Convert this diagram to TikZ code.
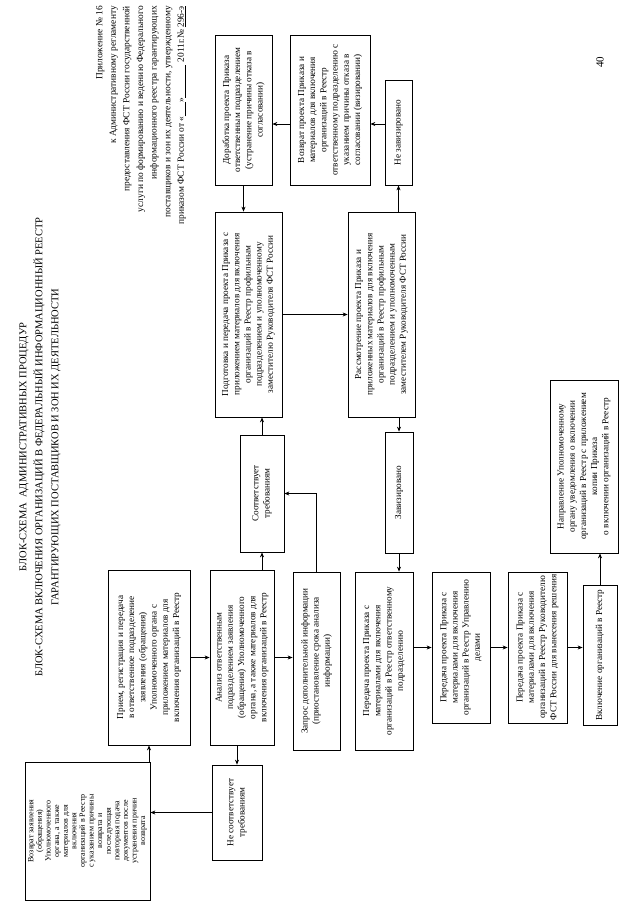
\documentclass[tikz,border=0pt]{standalone}
\usepackage{fontspec}
\setmainfont{Liberation Serif}
\usetikzlibrary{arrows.meta}
\newcommand\mybox[7][]{\node[bx,#1, minimum width={(#6-#5)*1pt}, minimum height={(#4-#3)*1pt}] (#2) at ({(#3+#4)/2},{(#5+#6)/2}) {#7};}
\begin{document}
\begin{tikzpicture}[x=1pt,y=-1pt,
  bx/.style={draw, line width=0.75pt, rotate=90, align=center, inner sep=1.5pt, font=\fontsize{9.2}{11.2}\selectfont},
  arr/.style={draw, line width=0.75pt, -{Stealth[length=5pt,width=4pt]}},
  txt/.style={rotate=90, inner sep=0pt}]
\fill[white] (0,0) rectangle (640,905);
\useasboundingbox (0,0) rectangle (640,905);

\node[txt, align=center, font=\fontsize{10.5}{16}\selectfont] (title) at (40,447) {БЛОК-СХЕМА\ \ АДМИНИСТРАТИВНЫХ ПРОЦЕДУР\\БЛОК-СХЕМА ВКЛЮЧЕНИЯ ОРГАНИЗАЦИЙ В ФЕДЕРАЛЬНЫЙ ИНФОРМАЦИОННЫЙ РЕЕСТР\\ГАРАНТИРУЮЩИХ ПОСТАВЩИКОВ И ЗОН ИХ ДЕЯТЕЛЬНОСТИ};
\node[txt, anchor=east, align=right, font=\fontsize{9.4}{13.6}\selectfont] (ann) at (141,6) {Приложение № 16\\к Административному регламенту\\предоставления ФСТ России государственной\\услуги по формированию и ведению Федерального\\информационного реестра гарантирующих\\поставщиков и зон их деятельности, утвержденному\\приказом ФСТ России от «\underline{\hspace{1.5em}}»\underline{\hspace{3.5em}} 2011г.№ \underline{296-э}};
\node[txt, font=\fontsize{11}{12}\selectfont] (pg) at (600,62) {40};

\mybox{dor}{215}{272}{35}{185}{Доработка проекта Приказа\\ответственным подразделением\\(устранение причины отказа в\\согласовании)}
\mybox{vpr}{290}{370}{35}{185}{Возврат проекта Приказа и\\материалов для включения\\организаций в Реестр\\ответственному подразделению с\\указанием причины отказа в\\согласовании (визировании)}
\mybox{nzv}{385}{412}{80}{185}{Не завизировано}
\mybox{pod}{215}{282}{212}{417}{Подготовка и передача проекта Приказа с\\приложением материалов для включения\\организаций в Реестр профильным\\подразделением и уполномоченному\\заместителю Руководителя ФСТ России}
\mybox{ras}{348}{415}{212}{417}{Рассмотрение проекта Приказа и\\приложенных материалов для включения\\организаций в Реестр профильным\\подразделением и уполномоченным\\заместителем Руководителя ФСТ России}
\mybox{soo}{240}{284}{435}{552}{Соответствует\\требованиям}
\mybox{zav}{385}{413}{432}{553}{Завизировано}
\mybox{nap}{550}{618}{380}{553}{Направление Уполномоченному\\органу уведомления о включении\\организаций в Реестр с приложением\\копии Приказа\\о включении организаций в Реестр}
\mybox{pri}{108}{190}{570}{745}{Прием, регистрация и передача\\в ответственное подразделение\\заявления (обращения)\\Уполномоченного органа с\\приложением материалов для\\включения организаций в Реестр}
\mybox{ana}{210}{274}{570}{745}{Анализ ответственным\\подразделением заявления\\(обращения) Уполномоченного\\органа, а также материалов для\\включения организаций в Реестр}
\mybox{zap}{293}{340}{572}{750}{Запрос дополнительной информации\\(приостановление срока анализа\\информации)}
\mybox{pot}{355}{413}{572}{750}{Передача проекта Приказа с\\материалами для включения\\организаций в Реестр ответственному\\подразделению}
\mybox{pud}{432}{490}{572}{723}{Передача проекта Приказа с\\материалами для включения\\организаций в Реестр Управлению\\делами}
\mybox{pru}{508}{567}{572}{723}{Передача проекта Приказа с\\материалами для включения\\организаций в Реестр Руководителю\\ФСТ России для вынесения решения}
\mybox{vkl}{583}{617}{585}{725}{Включение организаций в Реестр}
\mybox[font=\fontsize{8}{8.6}\selectfont]{vzz}{25}{150}{762}{900}{Возврат заявления\\(обращения)\\Уполномоченного\\органа, а также\\материалов для\\включения\\организаций в Реестр\\с указанием причины\\возврата и\\последующая\\повторная подача\\документов после\\устранения причин\\возврата}
\mybox{nso}{212}{262}{765}{860}{Не соответствует\\требованиям}

\coordinate (c3) at (0,124);
\draw[arr] (dor.west) -- (dor.west |- pod.east);
\draw[arr] (vpr.north |- c3) -- (dor.south |- c3);
\draw[arr] (nzv.north |- c3) -- (vpr.south |- c3);
\draw[arr] (nzv.west |- ras.east) -- (nzv.west);
\draw[arr] (pod.south) -- (pod.south -| ras.north);
\draw[arr] (soo.east) -- (soo.east |- pod.west);
\draw[arr] (zav.east |- ras.west) -- (zav.east);
\draw[arr] (zav.west) -- (zav.west |- pot.east);
\draw[arr] (pri.south) -- (pri.south -| ana.north);
\draw[arr] (soo.west |- ana.east) -- (soo.west);
\draw[arr] (nso.east |- ana.west) -- (nso.east);
\draw[arr] (ana.south) -- (ana.south -| zap.north);
\draw[arr] (zap.east) |- (soo.south);
\draw[arr] (pud.north -| pot.south) -- (pud.north);
\draw[arr] (pud.south) -- (pud.south -| pru.north);
\draw[arr] (pru.south) -- (pru.south -| vkl.north);
\draw[arr] (vkl.east) -- (vkl.east |- nap.west);
\draw[arr] (nso.north) -- (nso.north -| vzz.south);
\draw[arr] (pri.west |- vzz.east) -- (pri.west);
\end{tikzpicture}
\end{document}
